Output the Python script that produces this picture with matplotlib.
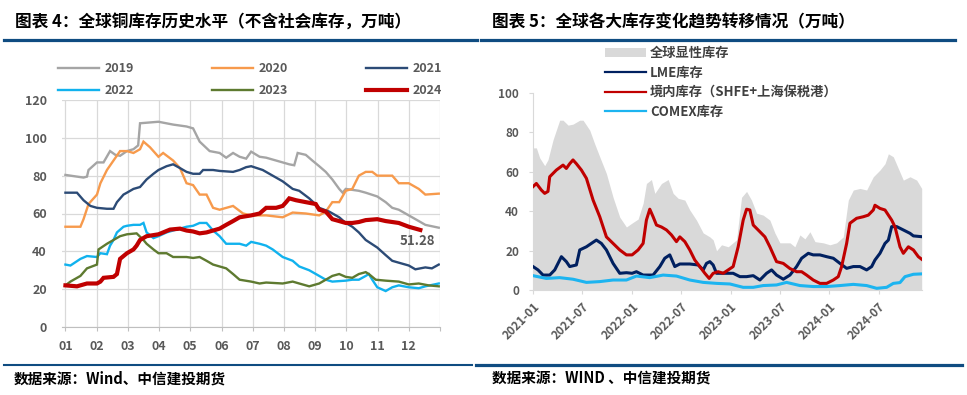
import matplotlib
matplotlib.use("Agg")
import matplotlib.pyplot as plt
from matplotlib.lines import Line2D
from matplotlib.patches import Patch

plt.rcParams['font.family'] = ['Noto Sans CJK SC', 'DejaVu Sans']

# ---------------- Left chart data (month position, value; 万吨) ----------------
m2019 = [1.00,1.37,1.58,1.69,1.74,2.01,2.22,2.43,2.60,2.75,2.97,3.18,3.33,3.39,3.98,4.45,4.88,5.09,5.30,5.62,5.94,6.15,6.37,6.58,6.79,6.95,7.22,7.43,7.96,8.17,8.33,8.44,8.70,8.91,9.13,9.34,9.55,9.77,9.88,9.98,10.40,10.62,10.99,11.26,11.47,11.68,12.00,12.32,12.53,12.96]
v2019 = [80.4,79.5,79,79.5,83,87,87,93,91,90.5,93,94,96,107.7,108.5,107,106,105,98,93,92,89.5,92,90,89,92.7,90,89.5,87,86,85.5,92,91,88,85,82,78,73,71,73,72,71,69,66,63,62,59,56,54,52.5]

m2020 = [1.00,1.48,1.58,1.74,2.01,2.12,2.33,2.54,2.75,2.97,3.18,3.39,3.50,3.71,3.98,4.13,4.45,4.67,4.88,5.09,5.30,5.52,5.73,5.94,6.37,6.69,6.95,7.43,7.96,8.28,8.70,9.13,9.34,9.55,9.77,9.98,10.19,10.40,10.62,10.83,10.99,11.47,11.68,12.00,12.32,12.53,12.96]
v2020 = [53,53,57,65,70,76,83,88,93,93,92,94,98,95,90,92,88,84,76,75,70,70,63,62,64,60,59,59,58,60.5,60,59,61,66,66,72,73,80,82,82,80,80,76,76,73,70,70.5]

m2021 = [1.00,1.37,1.58,1.80,2.01,2.33,2.54,2.65,2.86,2.97,3.18,3.39,3.60,3.82,3.98,4.24,4.45,4.67,4.88,5.09,5.30,5.41,5.73,5.94,6.37,6.58,6.79,6.95,7.32,7.64,7.96,8.28,8.49,8.81,9.13,9.45,9.77,9.98,10.19,10.40,10.62,10.99,11.26,11.47,11.68,12.00,12.21,12.53,12.74,12.96]
v2021 = [71,71,67,64,63,62.5,62.5,66,70,71,73,74,78,81,83,85,86,84,82,81,81,83,83,82.5,82,83,84.5,85,83,80,77,73,72,68,63,61,58,55,53,50,46,42,38,35,34,32.5,30.5,31.5,31,33]

m2022 = [1.00,1.16,1.48,1.69,2.01,2.12,2.33,2.43,2.54,2.65,2.86,2.97,3.18,3.39,3.50,3.60,3.82,3.98,4.24,4.45,4.67,4.88,5.09,5.30,5.52,5.73,5.94,6.15,6.58,6.79,6.95,7.22,7.43,7.64,7.96,8.28,8.49,8.81,9.13,9.34,9.55,9.98,10.19,10.40,10.62,10.72,10.83,10.99,11.26,11.47,11.68,12.00,12.32,12.53,12.96]
v2022 = [33,32.5,36,37.5,37,39,38.5,43,46,50,53,53.5,54,54,55,50,47,48,50,51,52,53,53.5,55,55,51,48,44,44,43,45,44,43,41,37,35,32,30,27,25,24,24.5,25,25,27,28,25,21,19,21,22,21,20.5,21.5,23]

m2023 = [1.00,1.16,1.48,1.69,2.01,2.06,2.33,2.54,2.75,2.97,3.28,3.50,3.60,3.82,3.98,4.24,4.45,4.88,5.09,5.30,5.52,5.73,5.94,6.15,6.37,6.58,6.95,7.22,7.43,7.96,8.28,8.49,8.81,9.13,9.34,9.55,9.77,9.98,10.19,10.40,10.62,10.72,10.94,11.26,11.68,12.00,12.32,12.64,12.96]
v2023 = [22,24,27,31,33,41,44,46,48,49,49.5,46,44,41,39,39,37,37,36.5,37,35,33,32,31,28,25,24,23,23.5,23,24,23,21.5,23,25,27,28,26.5,26,28,29,28,25,24.5,24,22.5,23,22,21.5]

m2024 = [1.00,1.37,1.69,2.01,2.12,2.22,2.54,2.65,2.75,2.97,3.18,3.28,3.39,3.60,3.98,4.13,4.35,4.67,4.88,5.09,5.30,5.52,5.73,5.94,6.15,6.37,6.58,6.95,7.22,7.43,7.75,7.96,8.07,8.17,8.39,8.70,9.02,9.13,9.34,9.55,9.77,9.98,10.19,10.40,10.62,10.99,11.26,11.68,12.00,12.37]
v2024 = [22,21.5,23,23,24,26,26.5,28,36,39,41,43,46,48,49,50,51.5,52,51,50.5,49.5,50,51,52,54,56,58,59,60,63,63,64,66,68,67,66,65,62,61,57,56,55,55,55.5,56.5,57,56,55,53,51.28]

years = ['2019', '2020', '2021', '2022', '2023', '2024']
month_labels = ['01','02','03','04','05','06','07','08','09','10','11','12']
left_yticks = [0, 20, 40, 60, 80, 100, 120]

# ---------------- Right chart data (months since 2021-01, 万吨) ----------------
t_total = [0.0,0.41,0.81,1.42,1.82,2.43,3.24,3.65,4.26,4.86,5.68,6.08,6.89,7.5,8.11,8.92,9.73,10.54,11.35,12.04,12.77,13.38,13.78,14.39,14.8,15.61,16.42,17.03,17.64,18.45,19.05,19.86,20.68,21.49,21.89,22.3,22.91,23.72,24.73,25.34,25.95,26.55,27.16,27.97,28.78,29.39,30.0,31.22,31.82,32.43,33.04,33.65,34.26,35.27,36.08,36.89,37.7,38.31,38.92,39.73,40.54,41.35,42.16,42.77,43.18,43.78,44.39,45.0,45.81,46.62,47.23]
v_total = [72,72,67,63,66,76,86,86,83.5,84,86,86,81,74,67.5,59,47,37,32,34,36,44,54,56,49,54,56,49,46.5,45.6,40.6,35.5,29,27,25.5,20,23,22,25.5,47,50,45.6,39,38,35.5,29,24,24,22,28,26,29.6,24.6,24,23,24,27,45.6,50.7,51.5,50.7,57.4,60.8,64,69,67.5,61.6,55.7,57.4,55.7,51.5]

t_dom = [0,0.41,1.01,1.42,1.82,2.03,2.84,3.65,4.05,4.46,4.86,5.27,5.88,6.49,7.3,8.11,8.92,9.73,10.54,11.35,12.04,12.77,13.38,13.78,14.19,14.59,15.0,15.61,16.22,16.82,17.43,17.84,18.45,19.05,19.66,20.27,20.88,21.41,21.89,22.5,23.11,23.72,24.32,24.93,25.54,25.95,26.35,26.76,27.57,28.18,28.78,29.59,30.41,31.22,32.03,32.64,33.24,34.05,34.86,35.68,36.49,37.09,37.5,38.11,38.51,39.32,40.14,40.74,41.35,41.55,42.16,42.77,43.58,43.99,44.59,45.0,45.61,46.22,46.82,47.23]
v_dom = [52.4,54,50.7,49,50,57.4,60.8,63.3,61.6,64,65.9,64,60.8,56.6,45.6,37.2,27,23.7,20.4,17.9,17.9,20.4,23.7,35.5,41,37.2,33,32,30.5,28,24.6,27,24.6,20.4,15.3,12,8.6,6,8.6,9.4,8.6,10.3,12,22,35.5,41,40.6,33,29.6,27,22,14.5,13.6,11,9.4,9.4,7.7,5.2,3.5,3.5,5.2,6.9,12,23.7,33.9,36.4,37.2,38,40.6,43,41.4,40.6,35.5,32,22,18.7,22,20.4,17,15.7]

t_lme = [0,0.61,1.22,2.03,2.64,3.04,3.45,4.05,4.46,5.27,5.68,6.49,7.09,7.7,8.31,8.92,9.73,10.54,11.35,12.04,12.57,13.38,14.59,15.41,16.01,16.62,17.23,17.84,19.05,20.07,20.68,21.08,21.49,21.89,22.3,23.11,24.32,25.14,25.95,26.76,27.57,28.38,28.99,29.59,30.41,31.22,32.03,32.64,33.45,34.05,34.86,35.68,36.49,37.3,38.11,38.92,39.73,40.54,41.15,41.55,42.16,42.77,43.18,43.58,44.19,45.0,45.81,46.22,47.23]
v_lme = [12,10.3,7.7,7.7,10.3,13.6,17,14.5,12,12.8,20.4,22,23.7,25.4,23.7,20.4,13.6,8.6,8.9,8.6,9.4,7.7,7.7,12,16.2,17.9,12,13.3,13.3,12.8,10.3,13.6,14.5,12.8,8.6,8.6,8.6,6.9,6.9,7.4,5.2,8.6,10.3,7.7,5.6,7.7,12,16.2,18.7,17.9,17.9,17,16.2,13.6,11.1,12,12,10.3,12,15.3,18.7,23.7,25.4,32.2,32.2,30.5,28.8,27.5,27.1]

t_comex = [0,1.62,3.24,4.86,6.49,8.11,9.73,11.35,12.57,14.19,15.81,17.43,19.05,20.68,22.3,23.92,25.54,26.76,27.97,29.59,30.81,32.43,34.05,35.68,37.3,38.92,40.54,41.76,42.97,43.78,44.59,45.2,46.22,47.23]
v_comex = [7.4,6,6.4,5.6,4,4.4,5.2,5.2,7.2,6.4,7.7,7.2,5.2,4,3.5,3.2,1.5,1.5,2.4,2.7,4,2.4,1.9,1.9,2.4,3,2.4,1,1.5,3.5,3.9,6.9,8.1,8.3]

right_xticks = [0, 6, 12, 18, 24, 30, 36, 42]
right_xlabels = ['2021-01','2021-07','2022-01','2022-07','2023-01','2023-07','2024-01','2024-07']
right_yticks = [0, 20, 40, 60, 80, 100]
right_names = ['全球显性库存', 'LME库存', '境内库存（SHFE+上海保税港）', 'COMEX库存']

# ---------------- Styling ----------------
W, H = 967, 395
TXT = '#595959'
GRID = '#D9D9D9'
NAVY_RULE = '#0F4C81'
year_colors = {'2019': '#A5A5A5', '2020': '#F79A4C', '2021': '#2C4B76',
               '2022': '#11B2EE', '2023': '#5E7A30', '2024': '#C00000'}
year_lw = {'2019': 1.7, '2020': 1.7, '2021': 1.7, '2022': 1.7, '2023': 1.7, '2024': 3.0}

fig = plt.figure(figsize=(W / 100, H / 100), dpi=100)

def fx(px):
    return px / W

def fy(py):
    return 1 - py / H

# ---------------- Left chart ----------------
axL = fig.add_axes([fx(62), fy(327), fx(440 - 62), (327 - 100) / H])
series = {'2019': (m2019, v2019), '2020': (m2020, v2020), '2021': (m2021, v2021),
          '2022': (m2022, v2022), '2023': (m2023, v2023), '2024': (m2024, v2024)}
handles = {}
for y in years:
    xs, vs = series[y]
    h, = axL.plot(xs, vs, color=year_colors[y], lw=year_lw[y], solid_joinstyle='miter',
                  zorder=3 if y != '2024' else 4)
    handles[y] = h

axL.set_xlim(0.89, 13.0)
axL.set_ylim(0, 120)
axL.set_xticks(list(range(1, 14)))
axL.set_xticklabels(month_labels + [''])
axL.set_yticks(left_yticks)
axL.grid(True, color=GRID, lw=0.9)
axL.set_axisbelow(True)
for s in ['top', 'right', 'left']:
    axL.spines[s].set_visible(False)
axL.spines['bottom'].set_color('#BFBFBF')
axL.tick_params(axis='x', length=3, color='#BFBFBF', pad=6, labelsize=9, labelcolor=TXT)
axL.tick_params(axis='y', length=0, pad=11, labelsize=9, labelcolor=TXT)
for lab in axL.get_xticklabels() + axL.get_yticklabels():
    lab.set_fontweight('bold')

axL.text(m2024[-1] - 0.1, v2024[-1] - 5.6, '51.28', ha='center', va='center',
         fontsize=9.5, fontweight='bold', color=TXT)

order = ['2019', '2022', '2020', '2023', '2021', '2024']
legL = fig.legend([handles[k] for k in order], order, loc='upper left',
                  bbox_to_anchor=(fx(58), fy(62)), ncol=3, frameon=False,
                  fontsize=9, handlelength=3.3, handletextpad=0.45,
                  columnspacing=6.2, labelspacing=0.75, borderpad=0, borderaxespad=0)
for t in legL.get_texts():
    t.set_color(TXT)
    t.set_fontweight('bold')

# ---------------- Right chart ----------------
axR = fig.add_axes([fx(533), fy(290.3), fx(921.7 - 533), (290.3 - 92.5) / H])
axR.fill_between(t_total, 0, v_total, color='#D9D9D9', lw=0, zorder=1)
axR.plot(t_lme, v_lme, color='#002060', lw=2.2, zorder=3)
axR.plot(t_dom, v_dom, color='#C00000', lw=2.2, zorder=4)
axR.plot(t_comex, v_comex, color='#1CB4F0', lw=2.2, zorder=3)
axR.set_xlim(0, 47.23)
axR.set_ylim(0, 100)
axR.set_xticks(right_xticks)
axR.set_xticklabels(right_xlabels, rotation=45, ha='right', rotation_mode='anchor')
axR.set_yticks(right_yticks)
for s in ['top', 'right']:
    axR.spines[s].set_visible(False)
axR.spines['left'].set_color(GRID)
axR.spines['bottom'].set_color(GRID)
axR.tick_params(axis='x', length=3, color=GRID, pad=4, labelsize=8.5, labelcolor=TXT)
axR.tick_params(axis='y', length=3, color=GRID, pad=7, labelsize=8.5, labelcolor=TXT)
for lab in axR.get_xticklabels() + axR.get_yticklabels():
    lab.set_fontweight('bold')

hR = [Patch(facecolor='#D9D9D9', edgecolor='none'),
      Line2D([], [], color='#002060', lw=1.6),
      Line2D([], [], color='#C00000', lw=1.6),
      Line2D([], [], color='#1CB4F0', lw=1.6)]
legR = fig.legend(hR, right_names, loc='upper left', bbox_to_anchor=(fx(605), fy(46)),
                  frameon=False, fontsize=9.5, handlelength=3.1, handleheight=0.65,
                  handletextpad=0.3, labelspacing=0.42, borderpad=0, borderaxespad=0)
for t in legR.get_texts():
    t.set_color('#404040')
    t.set_fontweight('bold')

# ---------------- Titles, rules, footers ----------------
fig.text(fx(15), fy(22), '图表 4：全球铜库存历史水平（不含社会库存，万吨）', fontsize=12,
         fontweight='bold', va='center', ha='left', color='black')
fig.text(fx(492), fy(22), '图表 5：全球各大库存变化趋势转移情况（万吨）', fontsize=12,
         fontweight='bold', va='center', ha='left', color='black')
fig.add_artist(Line2D([fx(4), fx(477)], [fy(40), fy(40)], color=NAVY_RULE, lw=2.3))
fig.add_artist(Line2D([fx(481), fx(955)], [fy(40), fy(40)], color=NAVY_RULE, lw=2.3))
fig.add_artist(Line2D([fx(4), fx(472)], [fy(365), fy(365)], color=NAVY_RULE, lw=1.5))
fig.add_artist(Line2D([fx(476), fx(962)], [fy(365), fy(365)], color=NAVY_RULE, lw=2.3))
fig.text(fx(14), fy(379), '数据来源：Wind、中信建投期货', fontsize=10.5, fontweight='bold',
         style='italic', va='center', ha='left', color='black')
fig.text(fx(492), fy(379), '数据来源：WIND 、中信建投期货', fontsize=10.5, fontweight='bold',
         style='italic', va='center', ha='left', color='black')

fig.savefig('out.png', dpi=100)
